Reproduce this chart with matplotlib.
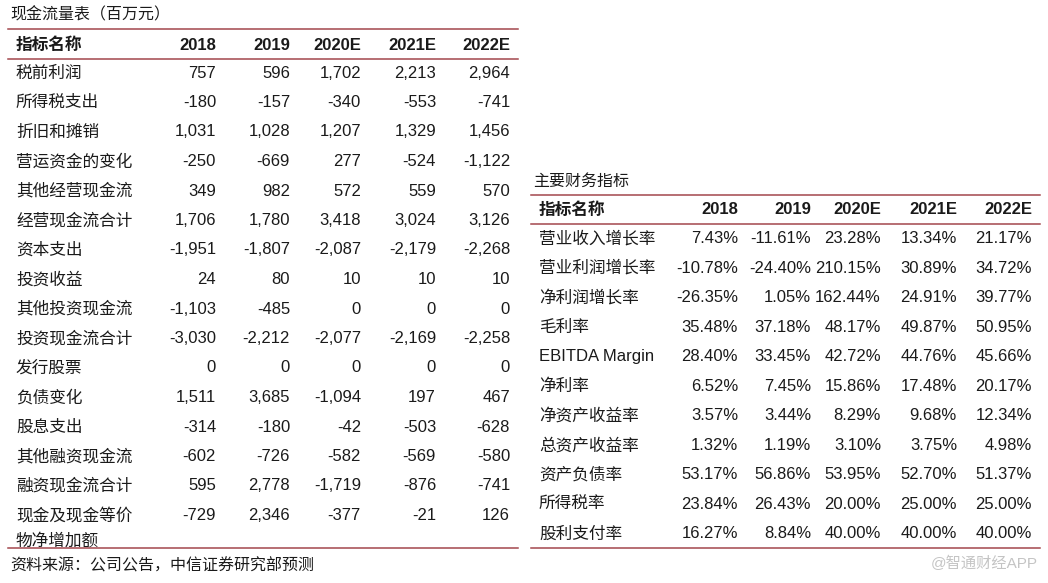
import matplotlib
matplotlib.use('Agg')
import matplotlib.pyplot as plt

plt.rcParams['font.family'] = ['Liberation Sans', 'Noto Sans CJK SC', 'DejaVu Sans']

# ---- data ----
years = ['2018', '2019', '2020E', '2021E', '2022E']

cash_title = '现金流量表（百万元）'
cash_labels = ['税前利润', '所得税支出', '折旧和摊销', '营运资金的变化', '其他经营现金流',
               '经营现金流合计', '资本支出', '投资收益', '其他投资现金流', '投资现金流合计',
               '发行股票', '负债变化', '股息支出', '其他融资现金流', '融资现金流合计',
               '现金及现金等价\n物净增加额']
cash_2018 = [757, -180, 1031, -250, 349, 1706, -1951, 24, -1103, -3030, 0, 1511, -314, -602, 595, -729]
cash_2019 = [596, -157, 1028, -669, 982, 1780, -1807, 80, -485, -2212, 0, 3685, -180, -726, 2778, 2346]
cash_2020 = [1702, -340, 1207, 277, 572, 3418, -2087, 10, 0, -2077, 0, -1094, -42, -582, -1719, -377]
cash_2021 = [2213, -553, 1329, -524, 559, 3024, -2179, 10, 0, -2169, 0, 197, -503, -569, -876, -21]
cash_2022 = [2964, -741, 1456, -1122, 570, 3126, -2268, 10, 0, -2258, 0, 467, -628, -580, -741, 126]

fin_title = '主要财务指标'
fin_labels = ['营业收入增长率', '营业利润增长率', '净利润增长率', '毛利率', 'EBITDA Margin',
              '净利率', '净资产收益率', '总资产收益率', '资产负债率', '所得税率', '股利支付率']
fin_2018 = [7.43, -10.78, -26.35, 35.48, 28.40, 6.52, 3.57, 1.32, 53.17, 23.84, 16.27]
fin_2019 = [-11.61, -24.40, 1.05, 37.18, 33.45, 7.45, 3.44, 1.19, 56.86, 26.43, 8.84]
fin_2020 = [23.28, 210.15, 162.44, 48.17, 42.72, 15.86, 8.29, 3.10, 53.95, 20.00, 40.00]
fin_2021 = [13.34, 30.89, 24.91, 49.87, 44.76, 17.48, 9.68, 3.75, 52.70, 25.00, 40.00]
fin_2022 = [21.17, 34.72, 39.77, 50.95, 45.66, 20.17, 12.34, 4.98, 51.37, 25.00, 40.00]

source = '资料来源：公司公告，中信证券研究部预测'
watermark = '@智通财经APP'

LINE = '#a3474d'
TXT = '#1a1a1a'
FS = 12

fig = plt.figure(figsize=(10.48, 5.83), dpi=100)
ax = fig.add_axes([0, 0, 1, 1])
ax.set_xlim(0, 1048)
ax.set_ylim(583, 0)
ax.axis('off')


def draw_table(x0, x1, label_x, col_right, title_y, top_y, head_y, sub_y,
               row_y0, row_step, bottom_y, title, labels, cols, fmt):
    ax.text(x0 + 2, title_y, title, fontsize=11.5, color=TXT, va='center', ha='left')
    ax.plot([x0, x1], [top_y, top_y], color=LINE, lw=1.1)
    ax.plot([x0, x1], [sub_y, sub_y], color=LINE, lw=1.1)
    ax.plot([x0, x1], [bottom_y, bottom_y], color=LINE, lw=1.1)
    ax.text(label_x, head_y, '指标名称', fontsize=FS, fontweight='bold', color=TXT,
            va='center', ha='left')
    for xr, yr in zip(col_right, years):
        ax.text(xr, head_y, yr, fontsize=FS, fontweight='bold', color=TXT,
                va='center', ha='right')
    for i, lab in enumerate(labels):
        y = row_y0 + i * row_step
        for j, part in enumerate(lab.split('\n')):
            ax.text(label_x, y + j * 25, part, fontsize=FS, color=TXT, va='center', ha='left')
        for xr, col in zip(col_right, cols):
            ax.text(xr, y, fmt(col[i]), fontsize=FS, color=TXT, va='center', ha='right')


draw_table(8, 518, 16, [216, 290, 361, 436, 510], 15, 29, 45, 59,
           73, 29.5, 548, cash_title, cash_labels,
           [cash_2018, cash_2019, cash_2020, cash_2021, cash_2022],
           lambda v: f'{v:,}')

draw_table(531, 1040, 539, [738, 811, 881, 957, 1032], 181, 195, 210, 224,
           238.5, 29.55, 548, fin_title, fin_labels,
           [fin_2018, fin_2019, fin_2020, fin_2021, fin_2022],
           lambda v: f'{v:.2f}%')

ax.text(10, 566, source, fontsize=11.5, color=TXT, va='center', ha='left')
ax.text(1038, 563, watermark, fontsize=11, color='#c4c4c4', va='center', ha='right')

fig.savefig('out.png', dpi=100, facecolor='white')
